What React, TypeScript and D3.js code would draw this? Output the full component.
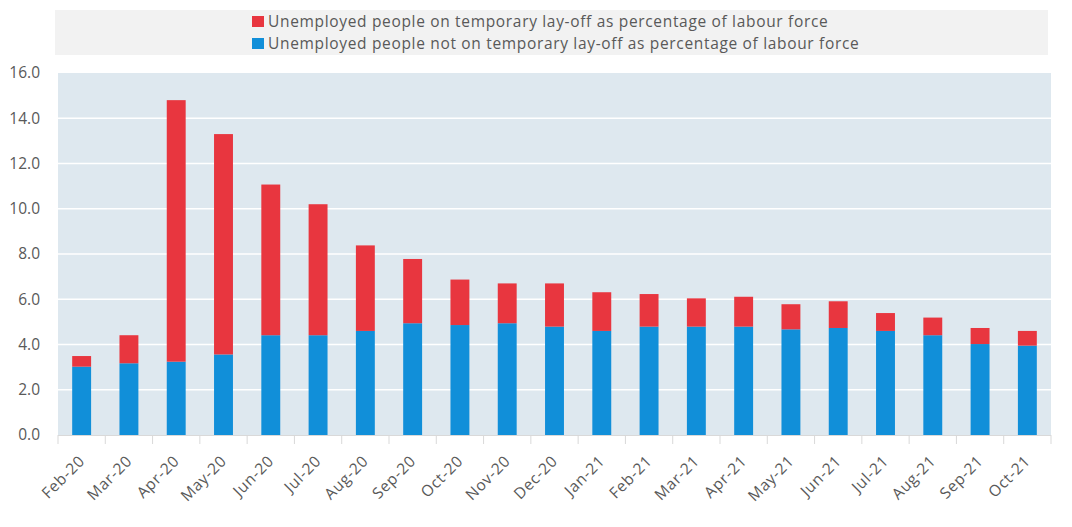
import React from "react";
import * as d3 from "d3";

const categories = ["Feb-20","Mar-20","Apr-20","May-20","Jun-20","Jul-20","Aug-20","Sep-20","Oct-20","Nov-20","Dec-20","Jan-21","Feb-21","Mar-21","Apr-21","May-21","Jun-21","Jul-21","Aug-21","Sep-21","Oct-21"];
// totals (top of stack)
const totalValues = [3.49,4.41,14.8,13.3,11.07,10.2,8.38,7.78,6.87,6.7,6.7,6.31,6.23,6.04,6.11,5.78,5.91,5.39,5.19,4.73,4.6];
// not on temporary lay-off (blue, bottom)
const notLayoffValues = [3.02,3.17,3.24,3.56,4.41,4.41,4.6,4.94,4.86,4.94,4.79,4.6,4.79,4.79,4.79,4.67,4.73,4.6,4.41,4.02,3.95];
// on temporary lay-off (red, top)
const layoffValues = totalValues.map((t, i) => +(t - notLayoffValues[i]).toFixed(2));
const yTicks = [0,2,4,6,8,10,12,14,16];
const legendLabels = [
  "Unemployed people on temporary lay-off as percentage of labour force",
  "Unemployed people not on temporary lay-off as percentage of labour force",
];

const RED = "#e8363f";
const BLUE = "#118fd9";
const TEXT = "#595959";
const FONT = "'Open Sans', 'Noto Sans', sans-serif";

export default function App() {
  const W = 1072, H = 527;
  const left = 58, right = 1051, top = 73, bottom = 435;
  const x = d3.scaleBand<string>().domain(categories).range([left, right]).paddingInner(0.6).paddingOuter(0.3);
  const y = d3.scaleLinear().domain([0, 16]).range([bottom, top]);
  const step = x.step();
  const boundaries = d3.range(categories.length + 1).map(i => left + i * step);

  return (
    <svg width={W} height={H} style={{ position: "absolute", left: 0, top: 0, background: "#fff" }} fontFamily={FONT}>
      {/* legend */}
      <rect x={55} y={10} width={993} height={45} fill="#f2f2f2" />
      {legendLabels.map((lab, i) => (
        <g key={lab}>
          <rect x={252} y={16 + i * 22} width={12} height={11} fill={i === 0 ? RED : BLUE} />
          <text x={268} y={26.5 + i * 22} fontSize={15.5} letterSpacing={0.67} fill={TEXT}>{lab}</text>
        </g>
      ))}
      {/* plot background */}
      <rect x={left} y={top} width={right - left} height={bottom - top} fill="#dee8ef" />
      {yTicks.filter(t => t > 0 && t < 16).map(t => (
        <line key={t} x1={left} x2={right} y1={y(t)} y2={y(t)} stroke="#ffffff" strokeWidth={1.5} />
      ))}
      {yTicks.map(t => (
        <text key={t} x={40} y={y(t)} dy="0.35em" textAnchor="end" fontSize={15.5} fill={TEXT}>{t.toFixed(1)}</text>
      ))}
      {/* bars */}
      {categories.map((c, i) => (
        <g key={c}>
          <rect x={x(c)} y={y(notLayoffValues[i])} width={x.bandwidth()} height={y(0) - y(notLayoffValues[i])} fill={BLUE} />
          <rect x={x(c)} y={y(notLayoffValues[i] + layoffValues[i])} width={x.bandwidth()} height={y(notLayoffValues[i]) - y(notLayoffValues[i] + layoffValues[i])} fill={RED} />
        </g>
      ))}
      {/* axis */}
      <line x1={left} x2={right} y1={bottom + 0.5} y2={bottom + 0.5} stroke="#d9d9d9" strokeWidth={1} />
      {boundaries.map((bx, i) => (
        <line key={i} x1={bx} x2={bx} y1={bottom} y2={bottom + 9} stroke="#d9d9d9" strokeWidth={1} />
      ))}
      {categories.map(c => {
        const cx = (x(c) as number) + x.bandwidth() / 2 + 4;
        const cy = bottom + 27;
        return (
          <text key={c} x={cx} y={cy} transform={`rotate(-45 ${cx} ${cy})`} textAnchor="end" fontSize={15.5} letterSpacing={0.67} fill={TEXT}>{c}</text>
        );
      })}
    </svg>
  );
}
